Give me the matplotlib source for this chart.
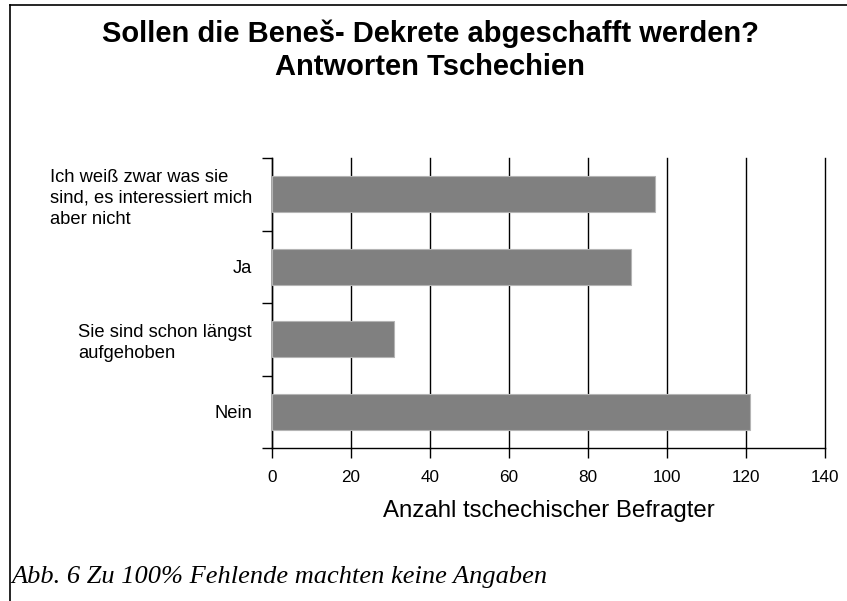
import matplotlib
matplotlib.use("Agg")
import matplotlib.pyplot as plt
from matplotlib.lines import Line2D

categories = ["Ich weiß zwar was sie\nsind, es interessiert mich\naber nicht",
              "Ja",
              "Sie sind schon längst\naufgehoben",
              "Nein"]
values = [97, 91, 31, 121]
xticks = [0, 20, 40, 60, 80, 100, 120, 140]

plt.rcParams['font.family'] = ['Liberation Sans', 'DejaVu Sans']

fig = plt.figure(figsize=(8.47, 6.01), dpi=100)
ax = fig.add_axes([272/847, 1-448/601, (825-272)/847, (448-158)/601])

ypos = list(range(len(categories)))
ax.barh(ypos, values, height=0.5, color='#808080', edgecolor='#b4b4b4',
        linewidth=0.8, zorder=3)
ax.set_xlim(0, 140)
ax.set_ylim(len(categories) - 0.5, -0.5)
ax.set_xticks(xticks)
ax.set_xticklabels([str(t) for t in xticks], fontsize=12.3)
ax.xaxis.grid(True, color='black', linewidth=1.0, zorder=0)
for gl in ax.get_xgridlines():
    gl.set_clip_on(False)
ax.set_axisbelow(True)

ax.set_yticks(ypos)
ax.set_yticklabels(categories, fontsize=13.2)
for lab in ax.get_yticklabels():
    lab.set_multialignment('left')
    lab.set_linespacing(1.3)
ax.tick_params(axis='y', which='major', length=0, pad=14.4)
ax.set_yticks([-0.5, 0.5, 1.5, 2.5, 3.5], minor=True)
ax.tick_params(axis='y', which='minor', length=7.2, width=1, color='black')
ax.tick_params(axis='x', length=7.2, width=1, color='black', pad=9)

for s in ['top', 'right']:
    ax.spines[s].set_visible(False)
ax.spines['left'].set_linewidth(1)
ax.spines['bottom'].set_linewidth(1)

ax.set_xlabel("Anzahl tschechischer Befragter", fontsize=17.3, labelpad=10.5)

fig.text(430/847, 1-50/601, "Sollen die Beneš- Dekrete abgeschafft werden?\nAntworten Tschechien",
         fontsize=21, fontweight='bold', ha='center', va='center',
         linespacing=1.22)

fig.text(11/847, 1-577/601, "Abb. 6 Zu 100% Fehlende machten keine Angaben",
         fontsize=19, style='italic', family='Liberation Serif',
         ha='left', va='center')

fig.add_artist(Line2D([10/847, 1], [1-5/601, 1-5/601], color='black', linewidth=1.2,
                      transform=fig.transFigure))
fig.add_artist(Line2D([10/847, 10/847], [0, 1-5/601], color='black', linewidth=1.2,
                      transform=fig.transFigure))

fig.savefig("out.png", dpi=100)
